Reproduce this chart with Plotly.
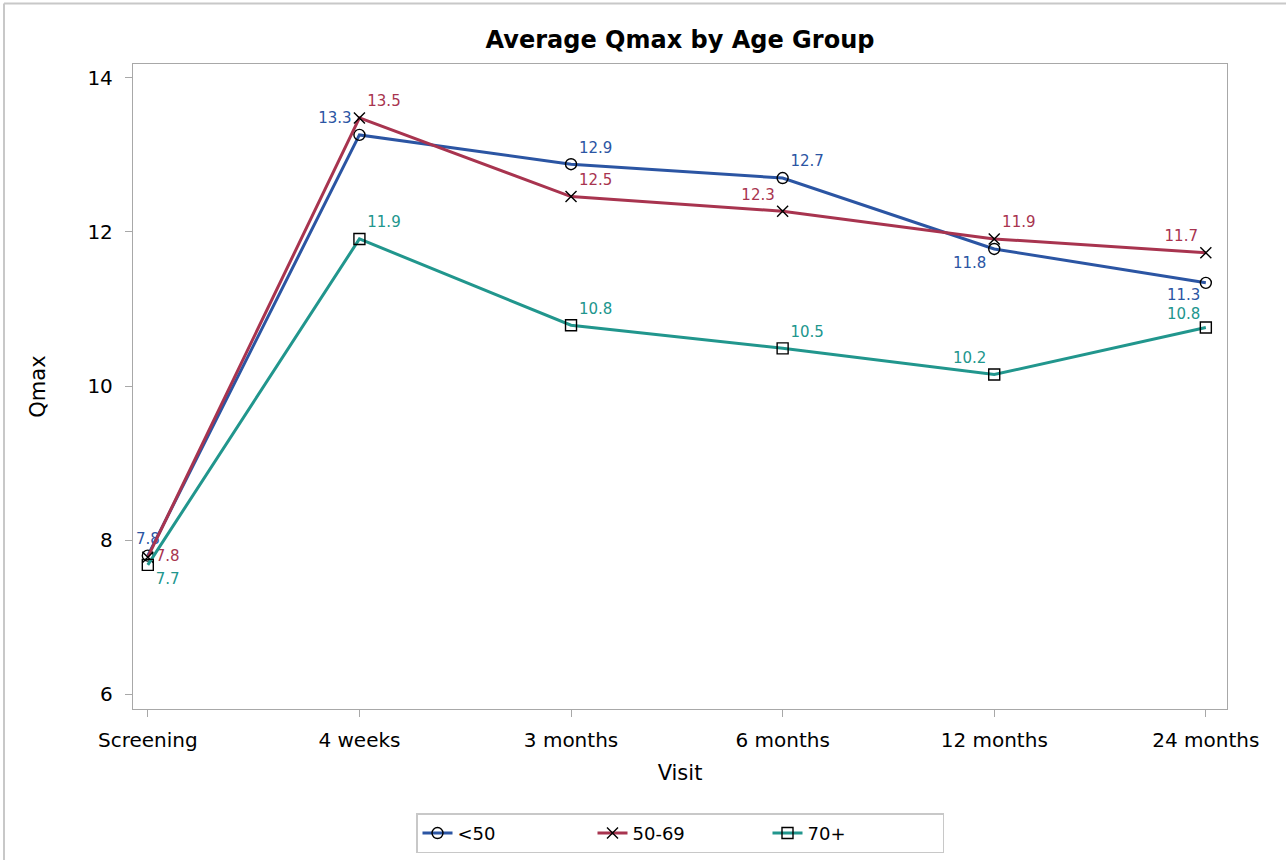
import plotly.graph_objects as go

visits = ["Screening", "4 weeks", "3 months", "6 months", "12 months", "24 months"]
grp_lt50 = [7.8, 13.26, 12.88, 12.70, 11.78, 11.34]
grp_50_69 = [7.78, 13.48, 12.46, 12.27, 11.91, 11.73]
grp_70p = [7.68, 11.91, 10.79, 10.49, 10.15, 10.76]
series_names = ["<50", "50-69", "70+"]
y_ticks = [6, 8, 10, 12, 14]

colors = ["#2b55a3", "#a8344f", "#21968d"]
symbols = ["circle-open", "x-thin-open", "square-open"]
textpos = [
    ["top center", "top left", "top right", "top right", "bottom left", None],
    ["middle right", "top right", "top right", "top left", "top right", "top left"],
    ["bottom right", "top right", "top right", "top right", "top left", None],
]
# labels placed as annotations (dx, dy in px) to avoid collisions
ann_offsets = [{5: (-4, -12)}, {}, {5: (-4, 14)}]

FONT = "DejaVu Sans, Liberation Sans, Arial"
L, R, T, B = 133, 1227, 64, 713
W, H = 1286, 865
pw, ph = R - L, B - T

fig = go.Figure()
for name, vals, c, s, tp, ao in zip(series_names, [grp_lt50, grp_50_69, grp_70p], colors, symbols,
                                    textpos, ann_offsets):
    labels = [f"{v:.1f}" for v in vals]
    fig.add_trace(go.Scatter(
        x=visits, y=vals, name=name, mode="lines+markers+text",
        line=dict(color=c, width=3),
        marker=dict(symbol=s, size=11, color="black", line=dict(color="black", width=1.4)),
        text=[("" if i in ao else t) for i, t in enumerate(labels)],
        textposition=[p if p else "top left" for p in tp],
        textfont=dict(color=c, size=15, family=FONT),
        cliponaxis=False,
    ))
    for i, (dx, dy) in ao.items():
        fig.add_annotation(x=visits[i], y=vals[i], text=labels[i], showarrow=False,
                           xanchor="right", yanchor="middle", xshift=dx, yshift=dy,
                           font=dict(color=c, size=15, family=FONT))

def px_x(x):
    return (x - L) / pw

def px_y(y):
    return (B - y) / ph

fig.add_shape(type="line", xref="paper", yref="paper", x0=px_x(4), x1=px_x(W), y0=px_y(3), y1=px_y(3),
              line=dict(color="#c8c8c8", width=2))
fig.add_shape(type="line", xref="paper", yref="paper", x0=px_x(4), x1=px_x(4), y0=px_y(3), y1=px_y(H),
              line=dict(color="#c8c8c8", width=2))

fig.update_layout(
    width=W, height=H,
    margin=dict(l=L, r=W - R, t=T, b=H - B),
    paper_bgcolor="white", plot_bgcolor="white",
    font=dict(family=FONT, size=19, color="black"),
    title=dict(text="<b>Average Qmax by Age Group</b>", x=0.5, xref="paper", y=1 - 40 / H, yanchor="middle",
               font=dict(size=24, family=FONT, color="black")),
    xaxis=dict(title=dict(text="Visit", font=dict(size=21), standoff=14), type="category",
               range=[-0.07, 5.1], showline=True, mirror=True, linecolor="#a8a8a8", linewidth=1.3,
               ticks="outside", ticklen=7, tickcolor="#a8a8a8", showgrid=False, zeroline=False,
               tickfont=dict(size=20), ticklabelstandoff=6),
    yaxis=dict(title=dict(text="Qmax", font=dict(size=21), standoff=36), range=[5.81, 14.18],
               tickvals=y_ticks, showline=True, mirror=True, linecolor="#a8a8a8", linewidth=1.3,
               ticks="outside", ticklen=7, tickcolor="#a8a8a8", showgrid=False, zeroline=False,
               tickfont=dict(size=20), ticklabelstandoff=8),
    legend=dict(orientation="h", x=0.5, xanchor="center", y=px_y(818), yanchor="top",
                bordercolor="#c8c8c8", borderwidth=1.5, font=dict(size=18),
                entrywidth=130, entrywidthmode="pixels"),
    showlegend=True,
)

fig.write_html("out.html", config={"displayModeBar": False},
               post_script="document.body.style.margin='0';")
